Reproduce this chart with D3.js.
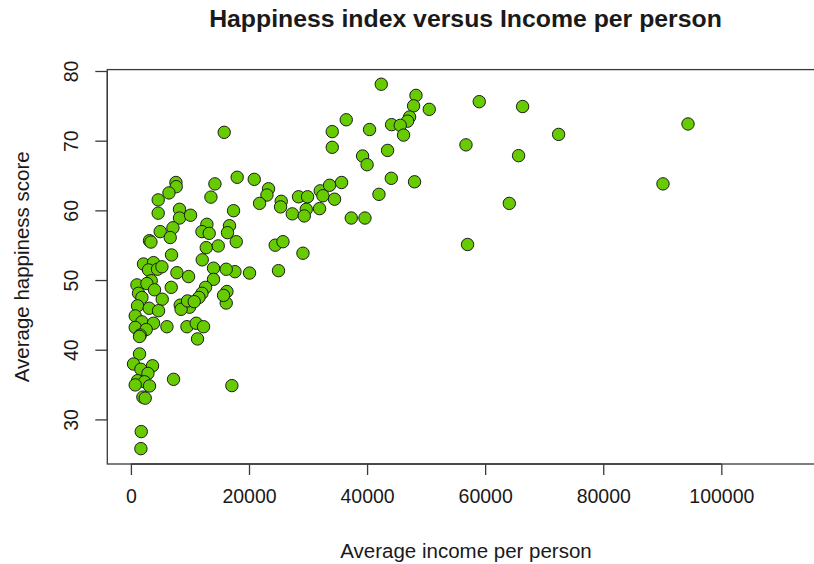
<!DOCTYPE html>
<html>
<head>
<meta charset="utf-8">
<script src="https://cdn.jsdelivr.net/npm/d3@7"></script>
<style>
  html, body { margin: 0; padding: 0; background: #ffffff; }
  svg { display: block; }
  text { font-family: "Liberation Sans", Arial, Helvetica, sans-serif; fill: #1a1a1a; }
</style>
</head>
<body>
<svg id="chart" width="814" height="564"></svg>
<script>
// Average income per person (one entry per country)
const income = [
  59000, 66340, 50530, 94360, 72440, 56750, 65660, 48040, 90120, 64090, 57020,
  42400, 48280, 47880, 47200, 46860, 44150, 45620, 46180, 36470, 40420, 34100,
  34100, 43470, 39240, 40000, 44100, 42010, 18000, 20890, 23310, 23040, 21790,
  25460, 25350, 28390, 29920, 32070, 32520, 33650, 35680, 34490, 31950, 29700,
  27330, 29360, 17380, 37320, 39640, 17840, 24440, 25750, 29140, 17620, 20090,
  25000, 16260, 16140, 17100, 15800, 7620, 7670, 6440, 14230, 4620, 13550,
  4620, 8230, 8230, 10100, 4960, 7120, 6660, 3150, 3390, 12870, 12030, 13260,
  16700, 16360, 12760, 14790, 6880, 12080, 2130, 3830, 2980, 4500, 5250, 7790,
  9760, 13990, 16140, 13990, 3440, 1020, 2710, 4000, 6830, 5300, 12640, 12030,
  11520, 15690, 1290, 1860, 1120, 3100, 4680, 8350, 9930, 8500, 9590, 10720,
  730, 1860, 3830, 6100, 9490, 11060, 12300, 730, 2590, 1580, 1460, 11280,
  1460, 440, 1690, 3660, 2880, 1120, 2300, 730, 3150, 7220, 2030, 2420, 1750,
  1690
];

// Average happiness score, same order as income
const happiness = [
  75.6, 74.9, 74.5, 72.4, 70.9, 69.4, 67.85, 64.1, 63.8, 61.0, 55.1,
  78.1, 76.5, 75.0, 73.4, 72.8, 72.3, 72.2, 70.8, 73.0, 71.6, 71.3,
  69.05, 68.6, 67.8, 66.55, 64.6, 62.3, 64.75, 64.45, 63.1, 62.2, 61.0,
  61.3, 60.5, 61.95, 61.95, 62.8, 62.1, 63.6, 64.0, 61.6, 60.25, 60.15,
  59.5, 59.2, 59.95, 58.9, 58.9, 55.5, 55.0, 55.5, 53.85, 51.2, 51.0,
  51.35, 48.35, 46.7, 34.85, 71.2, 64.0, 63.4, 62.5, 63.8, 61.5, 61.9,
  59.6, 60.15, 58.9, 59.3, 56.95, 57.5, 56.1, 55.65, 55.45, 58.0, 56.95, 56.7,
  57.8, 56.8, 54.65, 54.9, 53.6, 52.9, 52.3, 52.5, 51.45, 51.55, 51.9, 51.05,
  50.5, 51.7, 51.55, 50.1, 49.9, 49.3, 49.5, 48.6, 48.95, 47.25, 48.95, 48.1,
  47.5, 47.8, 48.1, 47.5, 46.3, 45.95, 45.6, 46.4, 46.1, 45.8, 47.0, 46.9,
  44.85, 44.0, 43.8, 43.3, 43.3, 43.8, 43.3, 43.2, 42.9, 42.1, 41.9, 41.55,
  39.4, 37.95, 37.2, 37.7, 36.6, 35.55, 35.4, 34.95, 34.8, 35.75, 33.2, 33.05, 28.25,
  25.8
];

const xTicks = [0, 20000, 40000, 60000, 80000, 100000];
const yTicks = [30, 40, 50, 60, 70, 80];

const titleText = "Happiness index versus Income per person";
const xLabel = "Average income per person";
const yLabel = "Average happiness score";

const svg = d3.select("#chart");

// plot region (the box runs past the right edge of the canvas)
const plot = { left: 107.3, right: 833.5, top: 69.6, bottom: 464 };

const x = d3.scaleLinear().domain([-4000, 119000]).range([plot.left, plot.right]);
const y = d3.scaleLinear().domain([23.6, 80.2]).range([plot.bottom, plot.top]);

// box
svg.append("rect")
  .attr("x", plot.left).attr("y", plot.top)
  .attr("width", plot.right - plot.left).attr("height", plot.bottom - plot.top)
  .attr("fill", "none").attr("stroke", "#3a3a3a").attr("stroke-width", 1.3);

// x axis
const xAxis = svg.append("g")
  .attr("transform", `translate(0,${plot.bottom})`)
  .call(d3.axisBottom(x).tickValues(xTicks).tickFormat(d3.format("d")).tickSize(11).tickPadding(14));
xAxis.select(".domain").remove();
xAxis.append("line")
  .attr("x1", x(xTicks[0])).attr("x2", x(xTicks[xTicks.length - 1]))
  .attr("stroke", "#3a3a3a").attr("stroke-width", 1.3);
xAxis.selectAll(".tick line").attr("stroke", "#3a3a3a").attr("stroke-width", 1.3);
xAxis.selectAll(".tick text").attr("font-size", 19.5).attr("fill", "#1a1a1a")
  .style("font-family", "'Liberation Sans', Arial, sans-serif");

// y axis, labels parallel to the axis
const yAxis = svg.append("g")
  .attr("transform", `translate(${plot.left},0)`)
  .call(d3.axisLeft(y).tickValues(yTicks).tickFormat(d3.format("d")).tickSize(12));
yAxis.select(".domain").remove();
yAxis.append("line")
  .attr("y1", y(yTicks[0])).attr("y2", y(yTicks[yTicks.length - 1]))
  .attr("stroke", "#3a3a3a").attr("stroke-width", 1.3);
yAxis.selectAll(".tick line").attr("stroke", "#3a3a3a").attr("stroke-width", 1.3);
yAxis.selectAll(".tick text")
  .attr("x", null).attr("dy", null)
  .attr("text-anchor", "middle")
  .attr("transform", "translate(-29,0) rotate(-90)")
  .attr("font-size", 19.5).attr("fill", "#1a1a1a")
  .style("font-family", "'Liberation Sans', Arial, sans-serif");

// points
svg.append("g")
  .selectAll("circle")
  .data(income.map((v, i) => [v, happiness[i]]))
  .join("circle")
  .attr("cx", d => x(d[0]))
  .attr("cy", d => y(d[1]))
  .attr("r", 6.2)
  .attr("fill", "#66cc00")
  .attr("stroke", "#1c1c1c")
  .attr("stroke-width", 1);

// title and axis titles
const midX = 466;
svg.append("text")
  .attr("x", 465.5).attr("y", 27)
  .attr("text-anchor", "middle")
  .attr("font-size", 24.8).attr("font-weight", "bold")
  .text(titleText);

svg.append("text")
  .attr("x", midX).attr("y", 558)
  .attr("text-anchor", "middle")
  .attr("font-size", 20.5)
  .text(xLabel);

svg.append("text")
  .attr("transform", `translate(29,${(plot.top + plot.bottom) / 2}) rotate(-90)`)
  .attr("text-anchor", "middle")
  .attr("font-size", 20.5)
  .text(yLabel);
</script>
</body>
</html>
